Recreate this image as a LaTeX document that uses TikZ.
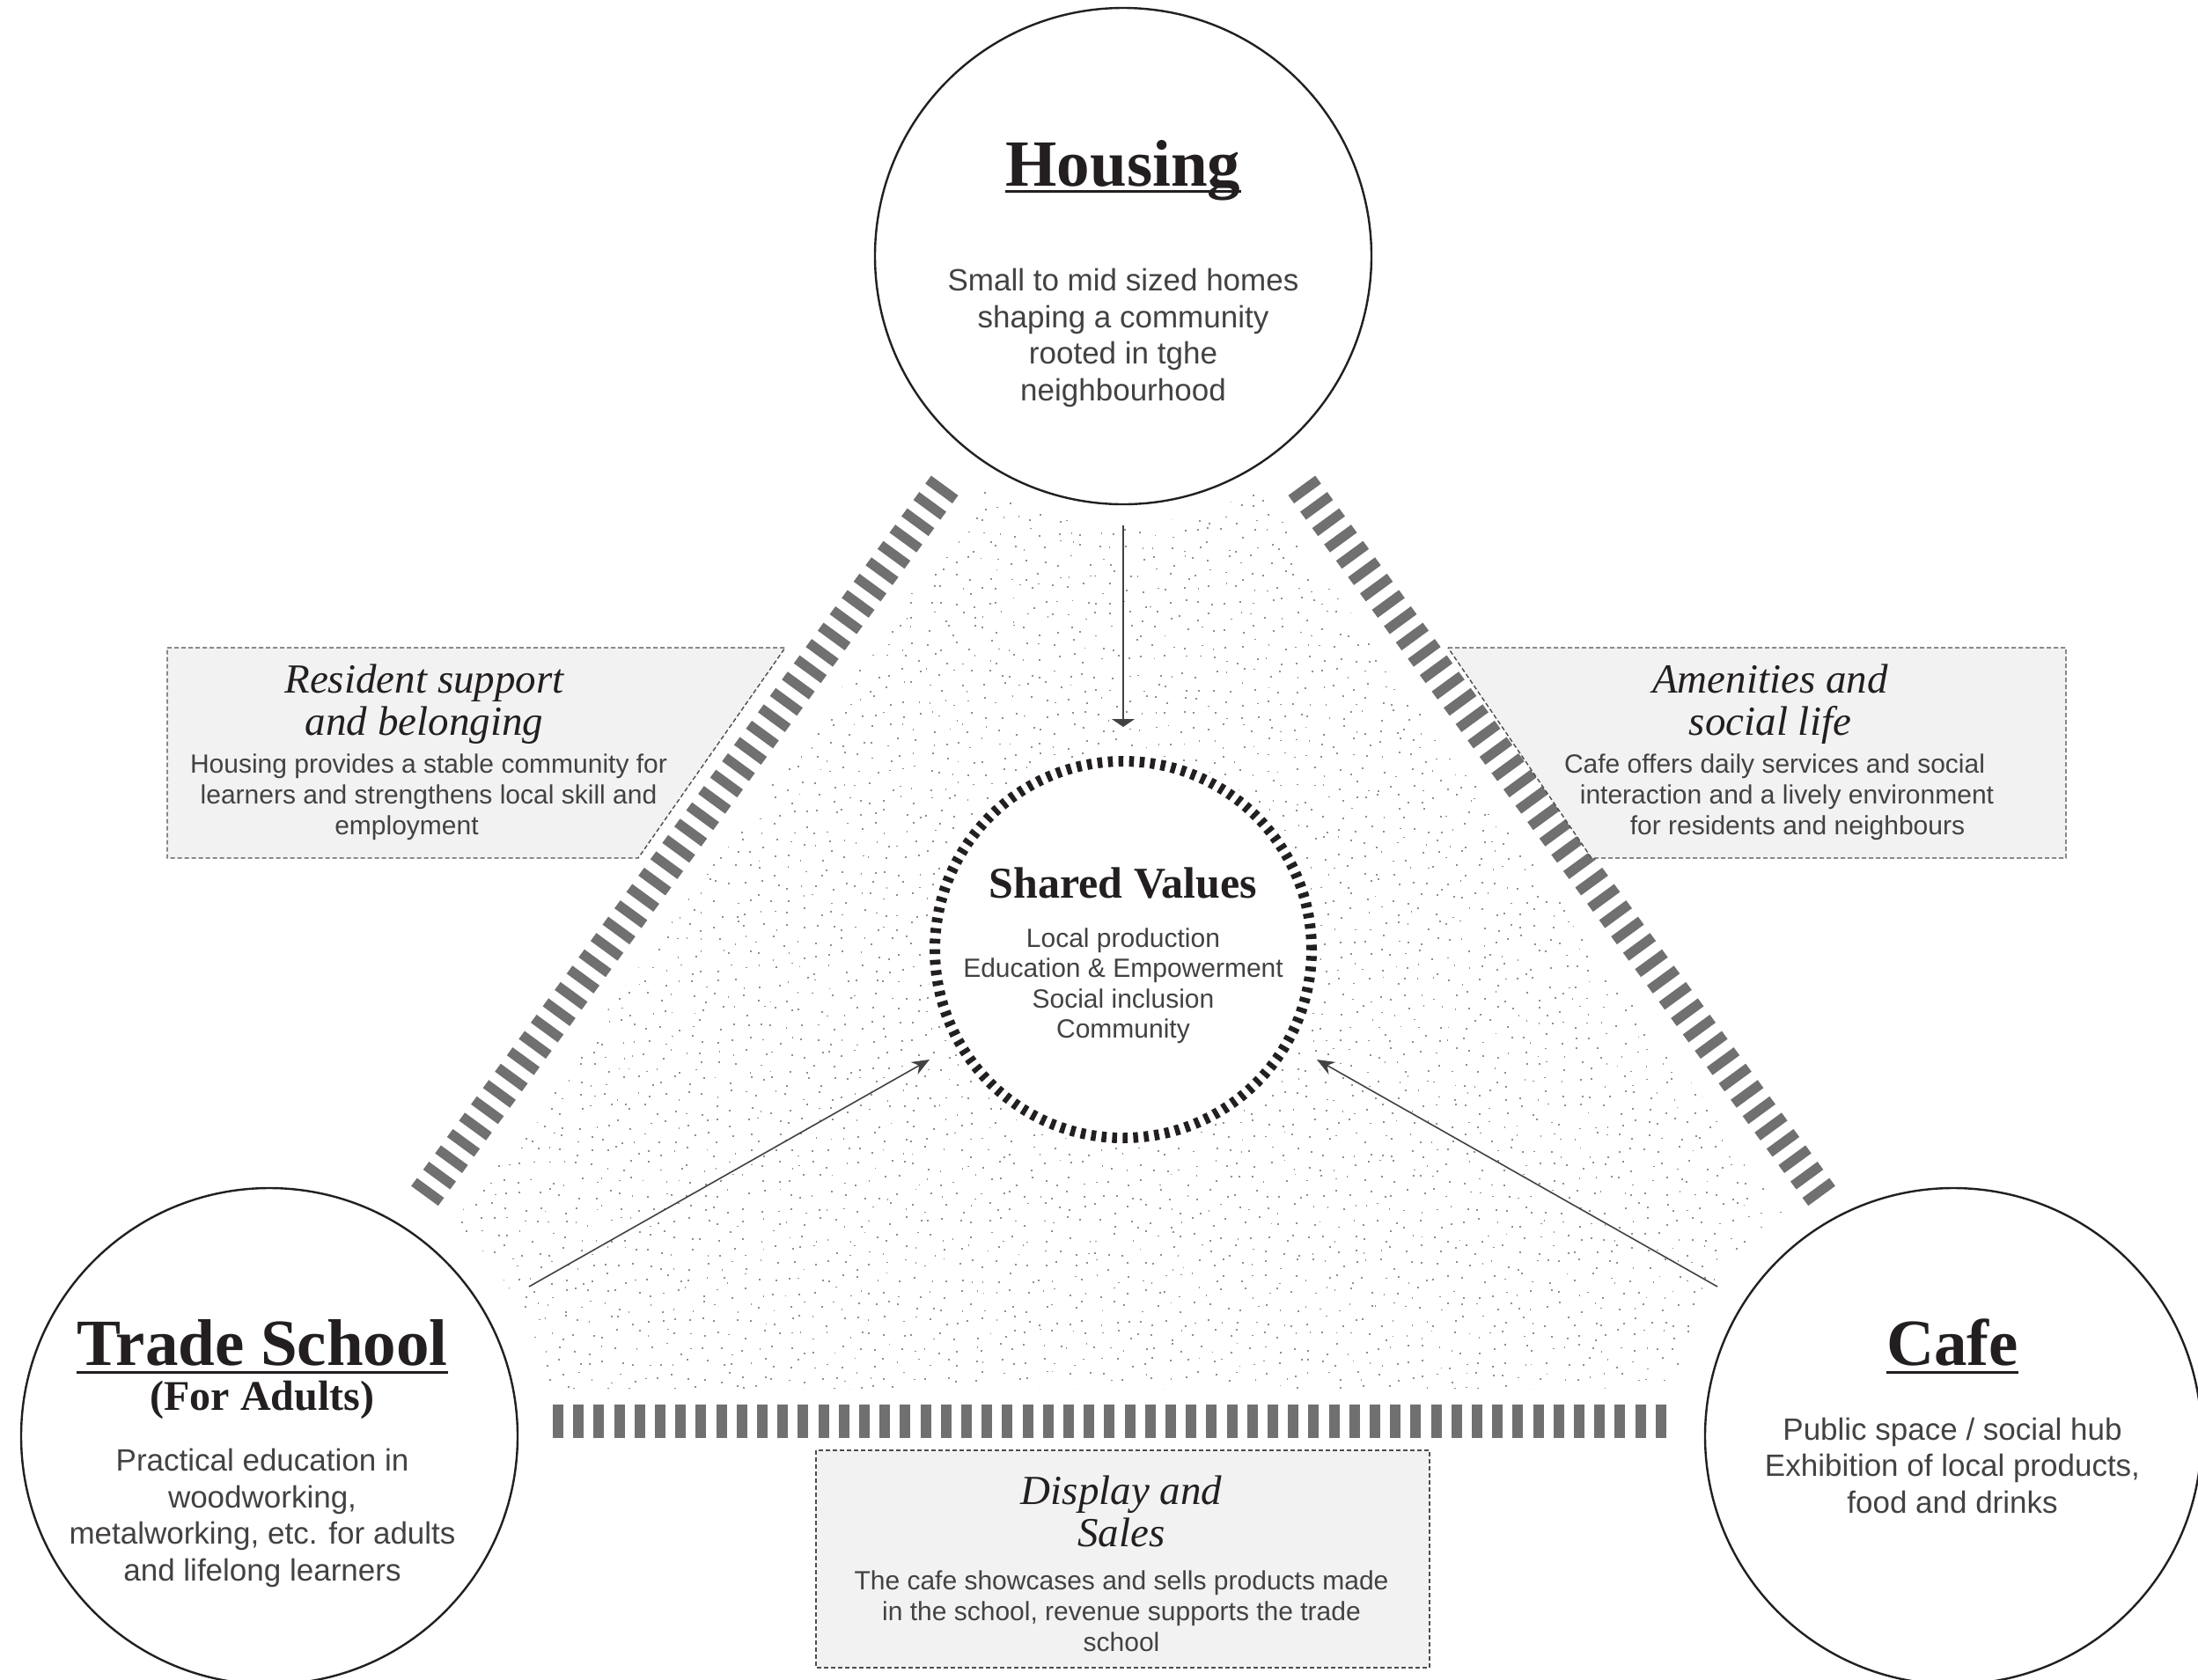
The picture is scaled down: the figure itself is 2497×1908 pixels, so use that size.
\documentclass[tikz,border=0pt]{standalone}
\usepackage{fontspec}
\setmainfont{Liberation Serif}
\newfontfamily\bodysans{Liberation Sans}
\usetikzlibrary{calc,arrows.meta}
\definecolor{bandgray}{HTML}{707070}
\definecolor{boxfill}{HTML}{F2F2F2}
\definecolor{ink}{HTML}{231F20}
\definecolor{dotgray}{HTML}{8E8E8E}
\tikzset{
  hubcircle/.style={circle, draw=ink, line width=1.2pt, minimum size=282pt, inner sep=0pt},
  bigtitle/.style={font=\fontsize{37.5}{40}\selectfont\bfseries, text=ink, inner sep=0pt, anchor=base},
  subtitle/.style={font=\fontsize{24}{26}\selectfont\bfseries, text=ink, inner sep=0pt, anchor=base},
  hubtext/.style={font=\bodysans\fontsize{17.5}{20.75}\selectfont, text=ink!85, align=center, inner sep=0pt},
  valtext/.style={font=\bodysans\fontsize{15}{17.25}\selectfont, text=ink!85, align=center, inner sep=0pt},
  underl/.style={draw=ink, line width=1.5pt},
  bandline/.style={draw=bandgray, line width=19pt, dash pattern=on 5.6pt off 5.9pt},
  notebox/.style={fill=boxfill, draw=ink!80, line width=0.7pt, dash pattern=on 2.5pt off 1.5pt},
  notetitle/.style={font=\itshape\fontsize{23.5}{24}\selectfont, text=ink, align=center, inner sep=0pt},
  notetext/.style={font=\bodysans\fontsize{15}{17.5}\selectfont, text=ink!85, align=center, inner sep=0pt},
  flowline/.style={draw=ink!85, line width=0.8pt},
}
\begin{document}
\begin{tikzpicture}[x=0.5pt,y=-0.5pt]
\useasboundingbox (0,0) rectangle (2497,1908);
\fill[white] (0,0) rectangle (2497,1908);

% stipple field
\begin{scope}
  \clip (1131,540) -- (1421,540) -- (1453,584) -- (2030,1380) -- (2072,1578)
        -- (480,1578) -- (522,1380) -- (1099,584) -- cycle;
  \begin{scope}[even odd rule]
  \clip (-50,-50) rectangle (2550,1960)
        (1276,291) circle (305) (306,1632) circle (320) (2219,1632) circle (320)
        (1276,1079) circle (224);
  \pgfmathsetseed{11}
  \foreach \i in {0,...,99}{
    \foreach \j in {0,...,65}{
      \pgfmathsetmacro\dx{480+16*\i+13*rnd-6.5}
      \pgfmathsetmacro\dy{540+16*\j+13*rnd-6.5}
      \fill[dotgray] (\dx,\dy) rectangle ++(1.8,1.8);
    }
  }
  \end{scope}
\end{scope}

% hatched bands
\coordinate (lb0) at (486,1354);
\coordinate (lb1) at (1073,552);
\coordinate (rb0) at (2066,1354);
\coordinate (rb1) at (1479,552);
\coordinate (bb0) at (628,1615);
\coordinate (bb1) at (1893,1615);
\draw[bandline] ($(lb0)!-3pt!(lb1)$) -- ($(lb1)!-3pt!(lb0)$);
\draw[bandline] ($(rb0)!-3pt!(rb1)$) -- ($(rb1)!-3pt!(rb0)$);
\draw[bandline, dash pattern=on 6pt off 5.6pt] (bb0) -- (bb1);

% note boxes
\draw[notebox] (190,736) -- (892,736) -- (725,975) -- (190,975) -- cycle;
\draw[notebox] (1645,736) -- (2347,736) -- (2347,975) -- (1808,975) -- cycle;
\draw[notebox] (927,1648) rectangle (1624,1895);

\node[notetitle] (lt) at (482,800) {Resident support\\and belonging};
\node[notetext] (lx) at (487,906) {Housing provides a stable community for\\learners and strengthens local skill and\hspace*{13pt}\\employment\hspace*{25pt}};
\node[notetitle] (rt) at (2011,800) {Amenities and\\social life};
\node[notetext] (rx) at (2016,906) {Cafe offers daily services and social\\\hspace*{14pt}interaction and a lively environment\\\hspace*{26pt}for residents and neighbours};
\node[notetitle] (bt) at (1274,1717) {Display and\\Sales};
\node[notetext] (bx) at (1274,1831) {The cafe showcases and sells products made\\in the school, revenue supports the trade\\school};

% hubs
\node[hubcircle] (housing) at (1276,291) {};
\node[hubcircle] (trade) at (306,1632) {};
\node[hubcircle] (cafe) at (2219,1632) {};

\node[bigtitle] (ht) at (1276,211) {Housing};
\draw[underl] ($(ht.base west)+(0,6)$) -- ($(ht.base east)+(0,6)$);
\node[hubtext] (hx) at (1276,384) {Small to mid sized homes\\shaping a community\\rooted in tghe\\neighbourhood};

\node[bigtitle] (tt) at (298,1551) {Trade School};
\draw[underl] ($(tt.base west)+(0,8)$) -- ($(tt.base east)+(0,8)$);
\node[subtitle] (ts) at (298,1602) {(For Adults)};
\node[hubtext] (tx) at (298,1725) {Practical education in\\woodworking,\\metalworking, etc. for adults\\and lifelong learners};

\node[bigtitle] (ct) at (2218,1551) {Cafe};
\draw[underl] ($(ct.base west)+(0,8)$) -- ($(ct.base east)+(0,8)$);
\node[hubtext] (cx) at (2218,1665) {Public space / social hub\\Exhibition of local products,\\food and drinks};

% shared values
\node[circle, draw=ink, line width=6pt, dash pattern=on 2.75pt off 3.25pt, minimum size=214pt, inner sep=0pt] (values) at (1276,1079) {};
\node[font=\fontsize{25}{27}\selectfont\bfseries, text=ink, inner sep=0pt] (vt) at (1276,1004) {Shared Values};
\node[valtext] (vx) at (1276,1120) {Local production\\Education \& Empowerment\\Social inclusion\\Community};

% arrows
\coordinate (a1s) at (1276,597);
\coordinate (a1e) at (1276,826);
\coordinate (a2s) at (601,1462);
\coordinate (a2e) at (1056,1204);
\coordinate (a3s) at (1951,1462);
\coordinate (a3e) at (1496,1204);
\draw[flowline, -{Triangle[length=4.5pt,width=13pt]}] (a1s) -- (a1e);
\draw[flowline, -{Stealth[length=10pt,width=8pt]}] (a2s) -- (a2e);
\draw[flowline, -{Stealth[length=10pt,width=8pt]}] (a3s) -- (a3e);
\end{tikzpicture}
\end{document}
